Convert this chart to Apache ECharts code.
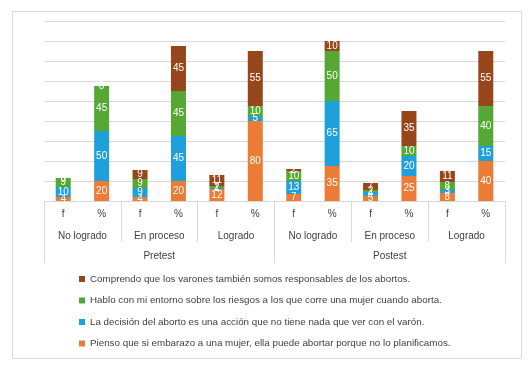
<!DOCTYPE html>
<html>
<head>
<meta charset="utf-8">
<script src="https://cdn.jsdelivr.net/npm/echarts@6/dist/echarts.min.js"></script>
<style>
html,body{margin:0;padding:0;background:#fff;}
#chart{width:531px;height:367px;}
</style>
</head>
<body>
<div id="chart"></div>
<script>
// Category levels
const level1 = ['f','%','f','%','f','%','f','%','f','%','f','%'];
const level2 = ['No logrado','En proceso','Logrado','No logrado','En proceso','Logrado'];
const level3 = ['Pretest','Postest'];

// Series (bottom to top in the stack)
const seriesNames = [
  'Pienso que si embarazo a una mujer, ella puede abortar porque no lo planificamos.',
  'La decisión del aborto es una acción que no tiene nada que ver con el varón.',
  'Hablo con mi entorno sobre los riesgos a los que corre una mujer cuando aborta.',
  'Comprendo que los varones también somos responsables de los abortos.'
];
const pienso     = [4,20, 4,20, 12,80, 7,35, 5,25, 8,40];
const decision   = [10,50, 9,45, 1,5, 13,65, 4,20, 3,15];
const hablo      = [9,45, 9,45, 2,10, 10,50, 2,10, 8,40];
const comprendo  = [0,0, 9,45, 11,55, 2,10, 7,35, 11,55];

const colors = ['#EB7B35','#1FA0DA','#55A834','#97451A'];
const font = 'Liberation Sans';
const txt = '#404040';
const lineC = '#d9d9d9';

const chart = echarts.init(document.getElementById('chart'));
const values = [pienso, decision, hablo, comprendo];

chart.setOption({
  animation: false,
  textStyle: {fontFamily: font},
  graphic: [{
    type: 'rect', left: 10, top: 9, silent: true,
    shape: {width: 509, height: 347},
    style: {fill: 'none', stroke: lineC, lineWidth: 1}
  }],
  grid: {left: 44, right: 26, top: 21, height: 180, containLabel: false},
  legend: {
    orient: 'vertical', left: 79, top: 273, padding: 0,
    itemWidth: 6, itemHeight: 6, itemGap: 9.5,
    icon: 'rect',
    data: [seriesNames[3], seriesNames[2], seriesNames[1], seriesNames[0]],
    textStyle: {fontFamily: font, fontSize: 9.8, color: txt, lineHeight: 12}
  },
  xAxis: [
    {
      type: 'category', data: level1, position: 'bottom',
      axisLine: {show: true, lineStyle: {color: lineC}},
      axisTick: {show: false},
      axisLabel: {interval: 0, margin: 8, fontSize: 10, color: txt, fontFamily: font}
    },
    {
      type: 'category', data: level2, position: 'bottom',
      axisLine: {show: false},
      axisTick: {show: true, interval: 0, length: 41, lineStyle: {color: lineC}},
      axisLabel: {interval: 0, margin: 30, fontSize: 10, color: txt, fontFamily: font}
    },
    {
      type: 'category', data: level3, position: 'bottom',
      axisLine: {show: false},
      axisTick: {show: true, interval: 0, length: 62, lineStyle: {color: lineC}},
      axisLabel: {interval: 0, margin: 50, fontSize: 10, color: txt, fontFamily: font}
    }
  ],
  yAxis: {
    type: 'value', min: 0, max: 180, interval: 20,
    axisLabel: {show: false}, axisLine: {show: false}, axisTick: {show: false},
    splitLine: {show: true, lineStyle: {color: lineC}}
  },
  series: values.map((v, i) => ({
    name: seriesNames[i], type: 'bar', stack: 'total', data: v,
    xAxisIndex: 0, barWidth: 15,
    itemStyle: {color: colors[i]},
    label: {show: true, position: 'inside', color: '#fff', fontSize: 10, fontFamily: font}
  }))
});
</script>
</body>
</html>
